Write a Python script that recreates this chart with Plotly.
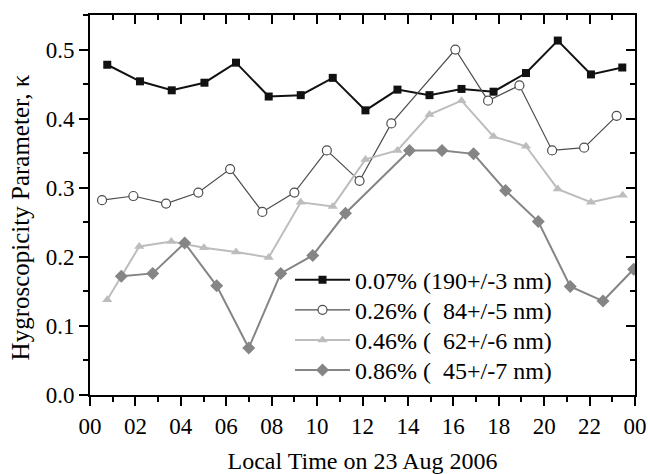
import plotly.graph_objects as go

# Local time (hours) and hygroscopicity parameter kappa per supersaturation
t_007 = [0.76, 2.2, 3.6, 5.04, 6.43, 7.87, 9.28, 10.69, 12.13, 13.54, 14.95, 16.36, 17.77, 19.2, 20.6, 22.06, 23.44]
k_007 = [0.478, 0.454, 0.441, 0.452, 0.481, 0.432, 0.434, 0.459, 0.412, 0.442, 0.434, 0.443, 0.439, 0.466, 0.513, 0.464, 0.474]

t_026 = [0.53, 1.91, 3.35, 4.77, 6.17, 7.59, 9.0, 10.43, 11.87, 13.27, 16.09, 17.53, 18.91, 20.35, 21.76, 23.19]
k_026 = [0.282, 0.288, 0.277, 0.293, 0.327, 0.265, 0.293, 0.354, 0.310, 0.393, 0.500, 0.426, 0.448, 0.354, 0.358, 0.404]

t_046 = [0.76, 2.17, 3.58, 5.02, 6.43, 7.87, 9.28, 10.69, 12.13, 13.54, 14.95, 16.36, 17.77, 19.2, 20.6, 22.06, 23.46]
k_046 = [0.138, 0.215, 0.222, 0.213, 0.207, 0.199, 0.279, 0.273, 0.341, 0.354, 0.406, 0.426, 0.374, 0.360, 0.298, 0.279, 0.289]

t_086 = [1.38, 2.76, 4.17, 5.58, 6.99, 8.4, 9.81, 11.25, 14.07, 15.5, 16.89, 18.3, 19.74, 21.15, 22.59, 23.94]
k_086 = [0.172, 0.176, 0.220, 0.158, 0.068, 0.176, 0.202, 0.263, 0.354, 0.354, 0.349, 0.296, 0.251, 0.157, 0.136, 0.182]

labels = ["0.07% (190+/-3 nm)", "0.26% (\u200784+/-5 nm)", "0.46% (\u200762+/-6 nm)", "0.86% (\u200745+/-7 nm)"]

x_tickvals = list(range(0, 25, 2))
x_ticktext = ["00", "02", "04", "06", "08", "10", "12", "14", "16", "18", "20", "22", "00"]

FONT = "Liberation Serif, Times New Roman, serif"
TICKFONT = dict(family=FONT, size=23, color="black")

fig = go.Figure()
fig.add_trace(go.Scatter(x=t_007, y=k_007, mode="lines+markers", name=labels[0], legend="legend",
                         line=dict(color="#111111", width=2),
                         marker=dict(symbol="square", size=8, color="#111111")))
fig.add_trace(go.Scatter(x=t_026, y=k_026, mode="lines+markers", name=labels[1], legend="legend2",
                         line=dict(color="#4d4d4d", width=1.2),
                         marker=dict(symbol="circle", size=9, color="white",
                                     line=dict(color="#4d4d4d", width=1.2))))
fig.add_trace(go.Scatter(x=t_046, y=k_046, mode="lines+markers", name=labels[2], legend="legend3",
                         line=dict(color="#bdbdbd", width=2),
                         marker=dict(symbol="triangle-up", size=9, color="#bdbdbd")))
fig.add_trace(go.Scatter(x=t_086, y=k_086, mode="lines+markers", name=labels[3], legend="legend4",
                         line=dict(color="#858585", width=2),
                         marker=dict(symbol="diamond", size=10, color="#858585")))
# empty trace to host the mirrored (top/right) axes
fig.add_trace(go.Scatter(x=[], y=[], xaxis="x2", yaxis="y2", showlegend=False, hoverinfo="skip"))

def legend_at(ypaper):
    return dict(x=0.367, y=ypaper, xanchor="left", yanchor="middle",
                bgcolor="rgba(0,0,0,0)", borderwidth=0,
                font=dict(family=FONT, size=24, color="black"), itemwidth=55)

minor_out_x = dict(dtick=1, ticks="outside", ticklen=5, tickwidth=2, tickcolor="black", showgrid=False)
minor_in_x = dict(dtick=1, ticks="inside", ticklen=5, tickwidth=2, tickcolor="black", showgrid=False)
minor_out_y = dict(dtick=0.05, ticks="outside", ticklen=5, tickwidth=2, tickcolor="black", showgrid=False)
minor_in_y = dict(dtick=0.05, ticks="inside", ticklen=5, tickwidth=2, tickcolor="black", showgrid=False)

fig.update_layout(
    width=648, height=474,
    margin=dict(l=90, r=13, t=15, b=79),
    paper_bgcolor="white", plot_bgcolor="white",
    font=dict(family=FONT, color="black", size=22),
    showlegend=True,
    legend=legend_at(0.302),
    legend2=legend_at(0.223),
    legend3=legend_at(0.144),
    legend4=legend_at(0.065),
    xaxis=dict(range=[0, 24], tickvals=x_tickvals, ticktext=x_ticktext, automargin=False,
               showgrid=False, zeroline=False, showline=True, linecolor="black", linewidth=2,
               ticks="outside", ticklen=9, tickwidth=2, tickcolor="black",
               tickfont=TICKFONT, minor=minor_out_x,
               title=dict(text="Local Time on 23 Aug 2006", font=dict(family=FONT, size=24, color="black"))),
    yaxis=dict(range=[0, 0.55], dtick=0.1, tick0=0, tickformat=".1f", automargin=False,
               showgrid=False, zeroline=False, showline=True, linecolor="black", linewidth=2,
               ticks="outside", ticklen=9, tickwidth=2, tickcolor="black",
               tickfont=TICKFONT, minor=minor_out_y),
    xaxis2=dict(overlaying="x", side="top", range=[0, 24], tickvals=x_tickvals, automargin=False,
                showticklabels=False, showgrid=False, zeroline=False,
                showline=True, linecolor="black", linewidth=2,
                ticks="inside", ticklen=9, tickwidth=2, tickcolor="black", minor=minor_in_x),
    yaxis2=dict(overlaying="y", side="right", range=[0, 0.55], dtick=0.1, tick0=0, automargin=False,
                showticklabels=False, showgrid=False, zeroline=False,
                showline=True, linecolor="black", linewidth=2,
                ticks="inside", ticklen=9, tickwidth=2, tickcolor="black", minor=minor_in_y),
    annotations=[dict(text="Hygroscopicity Parameter, \u03ba", textangle=-90,
                      xref="paper", yref="paper", x=-0.128, y=0.468,
                      xanchor="center", yanchor="middle", showarrow=False,
                      font=dict(family=FONT, size=25, color="black"))],
)

fig.write_html("out.html")
